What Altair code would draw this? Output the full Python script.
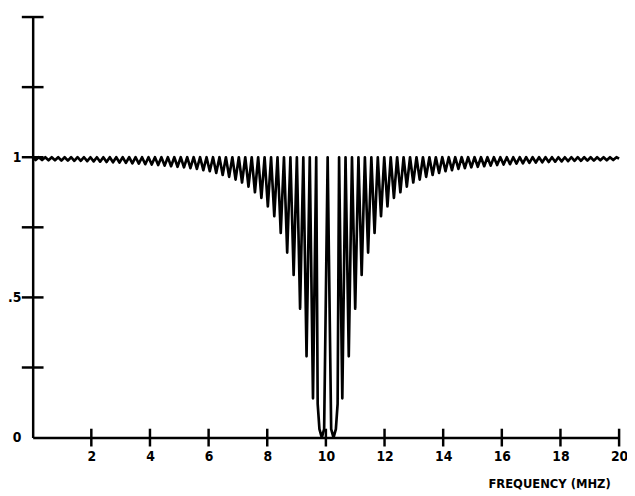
import altair as alt
import pandas as pd

# ---- data ----
left_peak_f = [0.00, 0.21, 0.43, 0.65, 0.87, 1.09, 1.31, 1.53, 1.75, 1.97, 2.19, 2.41, 2.63, 2.85,
               3.07, 3.29, 3.51, 3.73, 3.95, 4.17, 4.39, 4.61, 4.83, 5.05, 5.27, 5.49, 5.71, 5.93,
               6.15, 6.37, 6.59, 6.81, 7.03, 7.25, 7.47, 7.69, 7.91, 8.13, 8.35, 8.57, 8.79, 9.01,
               9.23, 9.45, 9.67]
left_peak_v = [1.0, 1.0, 1.0, 1.0, 1.0, 1.0, 1.0, 1.0, 1.0, 1.0, 1.0, 1.0, 1.0, 1.0,
               1.0, 1.0, 1.0, 1.0, 1.0, 1.0, 1.0, 1.0, 1.0, 1.0, 1.0, 1.0, 1.0, 1.0,
               1.0, 1.0, 1.0, 1.0, 1.0, 1.0, 1.0, 1.0, 1.0, 1.0, 1.0, 1.0, 1.0, 1.0,
               1.0, 1.0, 1.0]
left_trough_f = [0.10, 0.32, 0.54, 0.76, 0.98, 1.20, 1.42, 1.64, 1.86, 2.08, 2.30, 2.52, 2.74, 2.96,
                 3.18, 3.40, 3.62, 3.84, 4.06, 4.28, 4.50, 4.72, 4.94, 5.16, 5.38, 5.60, 5.82, 6.04,
                 6.26, 6.48, 6.70, 6.92, 7.14, 7.36, 7.58, 7.80, 8.02, 8.24, 8.46, 8.68, 8.90, 9.12,
                 9.34, 9.56]
left_trough_v = [0.990, 0.990, 0.989, 0.989, 0.988, 0.988, 0.987, 0.987, 0.986, 0.985, 0.984, 0.983,
                 0.982, 0.981, 0.980, 0.978, 0.977, 0.975, 0.974, 0.972, 0.970, 0.968, 0.966, 0.964,
                 0.961, 0.958, 0.954, 0.950, 0.944, 0.937, 0.930, 0.920, 0.910, 0.895, 0.875, 0.855,
                 0.825, 0.790, 0.730, 0.660, 0.580, 0.460, 0.290, 0.140]
center_f = [9.72, 9.78, 9.86, 9.94, 10.06, 10.18, 10.26, 10.34, 10.40]
center_v = [0.12, 0.03, 0.0, 0.03, 1.0, 0.03, 0.0, 0.03, 0.12]
right_peak_f = [10.45, 10.67, 10.89, 11.11, 11.33, 11.55, 11.77, 11.99, 12.21, 12.43, 12.65, 12.87,
                13.09, 13.31, 13.53, 13.75, 13.97, 14.19, 14.41, 14.63, 14.85, 15.07, 15.29, 15.51,
                15.73, 15.95, 16.17, 16.39, 16.61, 16.83, 17.05, 17.27, 17.49, 17.71, 17.93, 18.15,
                18.37, 18.59, 18.81, 19.03, 19.25, 19.47, 19.69, 19.91, 20.00]
right_peak_v = [1.0, 1.0, 1.0, 1.0, 1.0, 1.0, 1.0, 1.0, 1.0, 1.0, 1.0, 1.0,
                1.0, 1.0, 1.0, 1.0, 1.0, 1.0, 1.0, 1.0, 1.0, 1.0, 1.0, 1.0,
                1.0, 1.0, 1.0, 1.0, 1.0, 1.0, 1.0, 1.0, 1.0, 1.0, 1.0, 1.0,
                1.0, 1.0, 1.0, 1.0, 1.0, 1.0, 1.0, 1.0, 0.995]
right_trough_f = [10.56, 10.78, 11.00, 11.22, 11.44, 11.66, 11.88, 12.10, 12.32, 12.54, 12.76, 12.98,
                  13.20, 13.42, 13.64, 13.86, 14.08, 14.30, 14.52, 14.74, 14.96, 15.18, 15.40, 15.62,
                  15.84, 16.06, 16.28, 16.50, 16.72, 16.94, 17.16, 17.38, 17.60, 17.82, 18.04, 18.26,
                  18.48, 18.70, 18.92, 19.14, 19.36, 19.58, 19.80]
right_trough_v = [0.140, 0.290, 0.460, 0.580, 0.660, 0.730, 0.790, 0.825, 0.855, 0.875, 0.895, 0.910,
                  0.920, 0.930, 0.937, 0.944, 0.950, 0.954, 0.958, 0.961, 0.964, 0.966, 0.968, 0.970,
                  0.972, 0.974, 0.975, 0.977, 0.978, 0.980, 0.981, 0.982, 0.983, 0.984, 0.985, 0.986,
                  0.987, 0.987, 0.988, 0.988, 0.989, 0.989, 0.990]

x_ticks = [2, 4, 6, 8, 10, 12, 14, 16, 18, 20]
y_ticks = [0.25, 0.5, 0.75, 1.0, 1.25, 1.5]
y_labels = [0, 0.5, 1]

freqs = left_peak_f + left_trough_f + center_f + right_peak_f + right_trough_f
vals = left_peak_v + left_trough_v + center_v + right_peak_v + right_trough_v
df = pd.DataFrame({"f": freqs, "v": vals}).sort_values("f")

FONT = "Liberation Sans Narrow, DejaVu Sans Condensed, DejaVu Sans"
xscale = alt.Scale(domain=[0, 20], nice=False, zero=False)
yscale = alt.Scale(domain=[0, 1.5], nice=False)

x_axis = alt.Axis(
    values=x_ticks, ticks=False, tickSize=0, grid=False, domainColor="black", domainWidth=2.5,
    labelPadding=12, labelFont=FONT, labelFontSize=14, labelFontWeight="bold", labelColor="black",
    labelFlush=False, labelOverlap=False,
    title="FREQUENCY (MHZ)", titleFont=FONT, titleFontSize=13, titleFontWeight="bold",
    titleColor="black", titleX=585, titleY=47, titleAlign="right", titleBaseline="middle")
y_axis = alt.Axis(
    values=y_labels, ticks=False, tickSize=0, grid=False, domainColor="black", domainWidth=2.5,
    labelPadding=12, labelFont=FONT, labelFontSize=14, labelFontWeight="bold", labelColor="black",
    labelFlush=False,
    labelExpr="datum.value == 0.5 ? '.5' : datum.value == 1 ? '1' : '0'", title=None)

line = alt.Chart(df).mark_line(color="black", strokeWidth=2.7, strokeJoin="round").encode(
    x=alt.X("f:Q", scale=xscale, axis=x_axis),
    y=alt.Y("v:Q", scale=yscale, axis=y_axis),
)

xt = alt.Chart(pd.DataFrame({"t": x_ticks})).mark_tick(
    orient="vertical", size=18, thickness=2.5, color="black", opacity=1).encode(
    x=alt.X("t:Q", scale=xscale, axis=x_axis),
    y=alt.YDatum(0, scale=yscale, axis=y_axis))

yt = alt.Chart(pd.DataFrame({"t": y_ticks})).mark_tick(
    orient="horizontal", size=22, thickness=2.5, color="black", opacity=1).encode(
    y=alt.Y("t:Q", scale=yscale, axis=y_axis),
    x=alt.XDatum(0, scale=xscale, axis=x_axis))

chart = alt.layer(line, xt, yt).properties(
    width=594, height=426,
    autosize=alt.AutoSizeParams(type="none"),
    padding={"left": 25, "top": 6, "right": 8, "bottom": 56},
).configure_view(stroke=None)

chart.save("out.html", embed_options={"renderer": "svg", "actions": False})
